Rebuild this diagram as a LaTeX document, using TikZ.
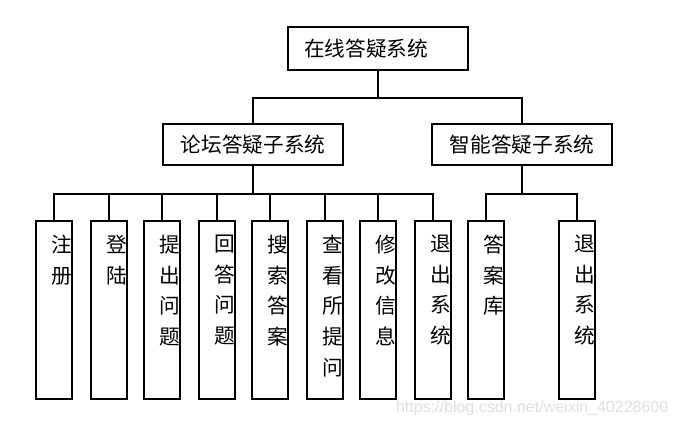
\documentclass[tikz,border=0pt]{standalone}
\usepackage{fontspec}
\setmainfont{Noto Sans CJK SC}
\newfontfamily\wmfont{Liberation Sans}
\newcommand{\coltext}[1]{\parbox[c][133.5pt][t]{27.4pt}{\raggedleft\vspace*{10.5pt}#1}}
\tikzset{
  box/.style={draw, line width=1.6pt, inner sep=0pt, minimum width=135pt, minimum height=31pt, font=\fontsize{15.5pt}{23pt}\selectfont},
  col/.style={draw, line width=1.6pt, inner sep=0pt, minimum width=27.4pt, minimum height=133.5pt, anchor=north, font=\fontsize{15.5pt}{23pt}\selectfont},
  wire/.style={line width=1.6pt}
}
\begin{document}
\begin{tikzpicture}[x=0.75pt,y=-0.75pt]
\useasboundingbox (0,0) rectangle (684,426);
\node[box, minimum height=32.25pt, text width=111pt, align=left, inner xsep=12pt] (m0) at (378,48.5){在线答疑系统};
\node[box] (m1) at (253,144.5){论坛答疑子系统};
\node[box] (m2) at (522.3,144.5){智能答疑子系统};
\draw[wire] (m0.south) -- ++(0,27) -| (m1.north);
\draw[wire] (m0.south) -- ++(0,27) -| (m2.north);

\node[col] (f1) at (54,220){\coltext{注\\册}};
\node[col] (f2) at (109,220){\coltext{登\\陆}};
\node[col] (f3) at (162,220){\coltext{提\\出\\问\\题}};
\node[col] (f4) at (217,220){\coltext{回\\答\\问\\题}};
\node[col] (f5) at (270,220){\coltext{搜\\索\\答\\案}};
\node[col] (f6) at (325,220){\coltext{查\\看\\所\\提\\问}};
\node[col] (f7) at (378,220){\coltext{修\\改\\信\\息}};
\node[col] (f8) at (433,220){\coltext{退\\出\\系\\统}};
\draw[wire] (m1.south) -- ++(0,27.7) -| (f1.north);
\draw[wire] (m1.south) -- ++(0,27.7) -| (f2.north);
\draw[wire] (m1.south) -- ++(0,27.7) -| (f3.north);
\draw[wire] (m1.south) -- ++(0,27.7) -| (f4.north);
\draw[wire] (m1.south) -- ++(0,27.7) -| (f5.north);
\draw[wire] (m1.south) -- ++(0,27.7) -| (f6.north);
\draw[wire] (m1.south) -- ++(0,27.7) -| (f7.north);
\draw[wire] (m1.south) -- ++(0,27.7) -| (f8.north);

\node[col] (f9) at (486,220){\coltext{答\\案\\库}};
\node[col] (f10) at (577,220){\coltext{退\\出\\系\\统}};
\draw[wire] (m2.south) -- ++(0,27.7) -| (f9.north);
\draw[wire] (m2.south) -- ++(0,27.7) -| (f10.north);

\node[text=gray!25, font=\wmfont\fontsize{12pt}{13pt}\selectfont, anchor=east] (wm) at (673,408){https://blog.csdn.net/weixin\_40228600};
\end{tikzpicture}
\end{document}
